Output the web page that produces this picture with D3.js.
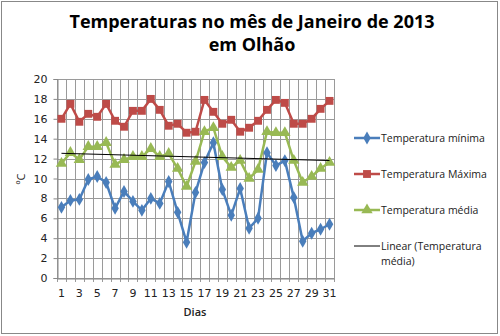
<!DOCTYPE html>
<html>
<head>
<meta charset="utf-8">
<script src="https://cdn.jsdelivr.net/npm/d3@7"></script>
<style>
  body { margin: 0; background: #fff; }
  svg { font-family: "Open Sans", "DejaVu Sans", sans-serif; }
</style>
</head>
<body>
<svg width="500" height="336"></svg>
<script>
// data
const days = d3.range(1, 32);
const tempMin = [7.1, 7.8, 7.9, 9.9, 10.2, 9.6, 7.0, 8.7, 7.7, 6.8, 8.0, 7.5, 9.7, 6.6, 3.6, 8.6,
  11.6, 13.6, 8.9, 6.3, 9.0, 5.0, 6.0, 12.6, 11.3, 11.8, 8.1, 3.7, 4.5, 4.9, 5.4];
const tempMax = [16.0, 17.5, 15.7, 16.5, 16.2, 17.5, 15.8, 15.2, 16.8, 16.8, 18.0, 16.9, 15.3, 15.5, 14.6, 14.7,
  17.9, 16.7, 15.5, 15.9, 14.7, 15.1, 15.8, 16.9, 17.9, 17.6, 15.5, 15.5, 16.0, 17.0, 17.8];
const tempMed = [11.5, 12.6, 11.9, 13.2, 13.2, 13.6, 11.4, 11.9, 12.2, 12.2, 13.0, 12.2, 12.5, 11.0, 9.2, 11.7,
  14.7, 15.1, 12.2, 11.1, 11.8, 10.0, 10.9, 14.7, 14.6, 14.6, 11.8, 9.6, 10.2, 11.0, 11.6];
const yTicks = [0, 2, 4, 6, 8, 10, 12, 14, 16, 18, 20];
const seriesNames = ["Temperatura mínima", "Temperatura Máxima", "Temperatura média"];

const svg = d3.select("svg");
const pLeft = 57, pRight = 334, pTop = 79, pBottom = 278;

// outer border
svg.append("rect").attr("x", 1.5).attr("y", 1.5).attr("width", 496).attr("height", 332)
  .attr("fill", "#fff").attr("stroke", "#888").attr("stroke-width", 1);

// title
svg.append("text").attr("x", 252).attr("y", 28).attr("text-anchor", "middle")
  .attr("font-size", 18).attr("font-weight", "bold").attr("fill", "#000")
  .text("Temperaturas no mês de Janeiro de 2013");
svg.append("text").attr("x", 252).attr("y", 51).attr("text-anchor", "middle")
  .attr("font-size", 18).attr("font-weight", "bold").attr("fill", "#000")
  .text("em Olhão");

const x = d3.scaleBand().domain(days).range([pLeft, pRight]);
const y = d3.scaleLinear().domain([0, 20]).range([pBottom, pTop]);
const cx = d => x(d) + x.bandwidth() / 2;

// gridlines
const grid = svg.append("g").attr("stroke", "#9a9a9a").attr("stroke-width", 1);
yTicks.forEach(t => {
  grid.append("line").attr("x1", pLeft).attr("x2", pRight)
    .attr("y1", Math.round(y(t)) + 0.5).attr("y2", Math.round(y(t)) + 0.5);
});
days.concat([32]).forEach((d, i) => {
  const xx = Math.round(pLeft + i * x.bandwidth()) + 0.5;
  grid.append("line").attr("x1", xx).attr("x2", xx).attr("y1", pTop).attr("y2", pBottom + 4);
});

// y axis
const yAxis = svg.append("g").attr("transform", `translate(${pLeft + 0.5},0)`)
  .call(d3.axisLeft(y).tickValues(yTicks).tickSize(4).tickPadding(6));
yAxis.select(".domain").attr("stroke", "#888");
yAxis.selectAll(".tick line").attr("stroke", "#888");
yAxis.selectAll("text").attr("font-size", 11).attr("fill", "#222")
  .attr("font-family", "'DejaVu Sans', sans-serif");

// x axis labels (odd days)
const xAxis = svg.append("g").attr("transform", `translate(0,${pBottom + 0.5})`)
  .call(d3.axisBottom(x).tickValues(days.filter(d => d % 2 === 1)).tickSize(0).tickPadding(11));
xAxis.select(".domain").attr("stroke", "#888");
xAxis.selectAll("text").attr("font-size", 11).attr("fill", "#222")
  .attr("font-family", "'DejaVu Sans', sans-serif");

// axis titles
svg.append("text").attr("transform", "translate(25,179) rotate(-90)").attr("text-anchor", "middle")
  .attr("font-size", 11).attr("fill", "#222").text("ºC");
svg.append("text").attr("x", 195).attr("y", 316).attr("text-anchor", "middle")
  .attr("font-size", 11).attr("font-weight", "600").attr("fill", "#222").text("Dias");

// series
const colors = ["#4A7EBB", "#BE4B48", "#98B954"];
const series = [tempMin, tempMax, tempMed];
const symbols = [d3.symbolDiamond, d3.symbolSquare, d3.symbolTriangle];
const sizes = [48, 62, 56];
const line = d3.line().x((v, i) => cx(days[i])).y(v => y(v));

series.forEach((vals, s) => {
  svg.append("path").datum(vals).attr("d", line).attr("fill", "none")
    .attr("stroke", colors[s]).attr("stroke-width", 2.5).attr("stroke-linejoin", "round");
  svg.append("g").selectAll("path").data(vals).join("path")
    .attr("transform", (v, i) => `translate(${cx(days[i])},${y(v)})`)
    .attr("d", d3.symbol(symbols[s], sizes[s]))
    .attr("fill", colors[s]);
});

// linear trend of the mean
const mx = d3.mean(days), my = d3.mean(tempMed);
const slope = d3.sum(days, (d, i) => (d - mx) * (tempMed[i] - my)) / d3.sum(days, d => (d - mx) ** 2);
const icpt = my - slope * mx;
svg.append("line").attr("x1", cx(1)).attr("x2", cx(31))
  .attr("y1", y(icpt + slope * 1)).attr("y2", y(icpt + slope * 31))
  .attr("stroke", "#000").attr("stroke-width", 1);

// legend
const lg = svg.append("g").attr("font-size", 10.5).attr("fill", "#222");
const rows = [138, 174, 210];
seriesNames.forEach((name, s) => {
  lg.append("line").attr("x1", 354).attr("x2", 380).attr("y1", rows[s]).attr("y2", rows[s])
    .attr("stroke", colors[s]).attr("stroke-width", 2.5);
  lg.append("path").attr("transform", `translate(367,${rows[s]})`)
    .attr("d", d3.symbol(symbols[s], sizes[s])).attr("fill", colors[s]);
  lg.append("text").attr("x", 381).attr("y", rows[s] + 4).text(name);
});
lg.append("line").attr("x1", 354).attr("x2", 380).attr("y1", 246).attr("y2", 246)
  .attr("stroke", "#000").attr("stroke-width", 1);
lg.append("text").attr("x", 381).attr("y", 250).text("Linear (Temperatura");
lg.append("text").attr("x", 381).attr("y", 265).text("média)");
</script>
</body>
</html>
